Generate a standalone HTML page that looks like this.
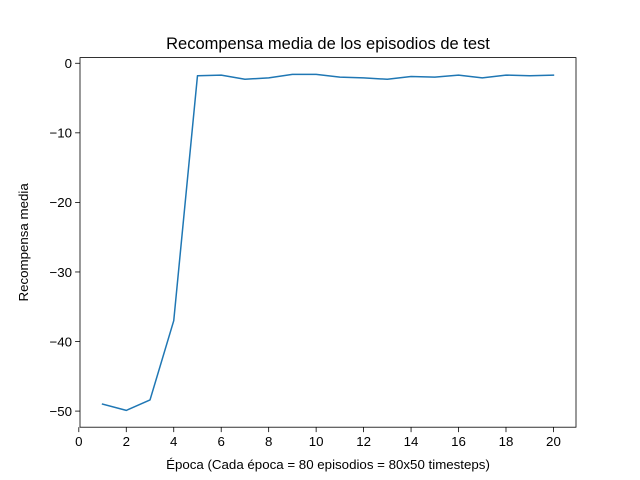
<!DOCTYPE html>
<html><head><meta charset="utf-8"><style>
html,body{margin:0;padding:0;background:#fff;}
svg{display:block;font-family:"Liberation Sans","DejaVu Sans",sans-serif;}
</style></head><body>
<svg id="chart" width="640" height="480"></svg>
<script>
const epochs = [1,2,3,4,5,6,7,8,9,10,11,12,13,14,15,16,17,18,19,20];
const rewards = [-49.0,-49.9,-48.4,-37.0,-1.8,-1.7,-2.3,-2.1,-1.6,-1.6,-2.0,-2.1,-2.3,-1.9,-2.0,-1.7,-2.1,-1.7,-1.8,-1.7];
const xTicks = [0,2,4,6,8,10,12,14,16,18,20];
const yTicks = [0,-10,-20,-30,-40,-50];

const NS = "http://www.w3.org/2000/svg";
const svg = document.getElementById('chart');
const L=80,R=576,T=57.6,B=427.2;
const xmin0=Math.min(...epochs), xmax0=Math.max(...epochs);
const ymin0=Math.min(...rewards), ymax0=Math.max(...rewards);
const xm=(xmax0-xmin0)*0.05, ym=(ymax0-ymin0)*0.05;
const xmin=xmin0-xm,xmax=xmax0+xm,ymin=ymin0-ym,ymax=ymax0+ym;
function sx(v){return L+(v-xmin)/(xmax-xmin)*(R-L);}
function sy(v){return B-(v-ymin)/(ymax-ymin)*(B-T);}
function el(tag,attrs,text){const e=document.createElementNS(NS,tag);for(const k in attrs)e.setAttribute(k,attrs[k]);if(text!==undefined)e.textContent=text;svg.appendChild(e);return e;}

let e;
e=el('text',{x:(L+R)/2,y:49,'text-anchor':'middle','font-size':'16.5',fill:'#000'},'Recompensa media de los episodios de test');



xTicks.forEach(t=>{
  const x=sx(t);
  const l=el('line',{x1:x,y1:B,x2:x,y2:B+4.9,stroke:'#000','stroke-width':0.8});
  
  
  const tx=el('text',{x:x,y:B+19,'text-anchor':'middle','font-size':'13.3',fill:'#000'},String(t));
  
  
});
yTicks.forEach(t=>{
  const y=sy(t);
  const l=el('line',{x1:L-4.9,y1:y,x2:L,y2:y,stroke:'#000','stroke-width':0.8});
  
  
  const tx=el('text',{x:L-8,y:y+4.8,'text-anchor':'end','font-size':'13.3',fill:'#000'},(t<0?'\u2212'+(-t):String(t)));
  
  
});

const pts=epochs.map((v,i)=>sx(v).toFixed(2)+','+sy(rewards[i]).toFixed(2)).join(' ');
e=el('polyline',{points:pts,fill:'none',stroke:'#1f77b4','stroke-width':1.5,'stroke-linejoin':'round','stroke-linecap':'square'});



e=el('rect',{x:L,y:T,width:R-L,height:B-T,fill:'none',stroke:'#000','stroke-width':0.8});



e=el('text',{x:(L+R)/2,y:469,'text-anchor':'middle','font-size':'13.3',fill:'#000'},'Época (Cada época = 80 episodios = 80x50 timesteps)');


e=el('text',{x:0,y:0,'text-anchor':'middle','font-size':'13.3',fill:'#000',transform:`translate(28,${(T+B)/2}) rotate(-90)`},'Recompensa media');


</script>
</body></html>
